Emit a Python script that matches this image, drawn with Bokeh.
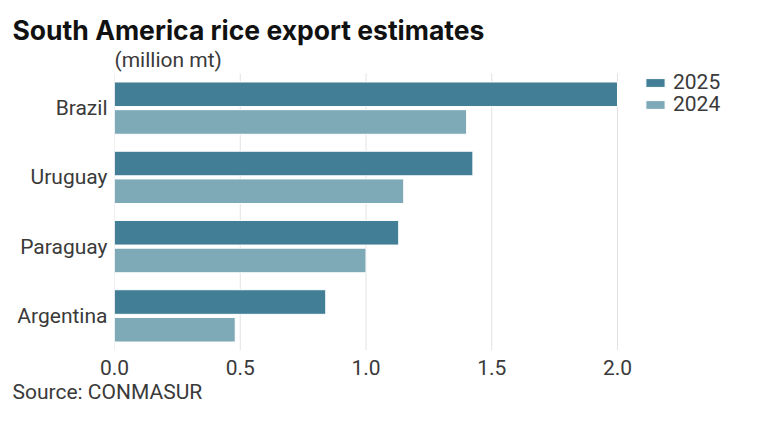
from bokeh.plotting import figure
from bokeh.models import (ColumnDataSource, FixedTicker, NumeralTickFormatter,
                          Title, Legend, LegendItem, Range1d, Label)
from bokeh.transform import dodge
from bokeh.embed import file_html
from bokeh.resources import INLINE

# Rice export estimates, million metric tons
countries = ["Brazil", "Uruguay", "Paraguay", "Argentina"]
exports_2025 = [2.0, 1.425, 1.13, 0.84]
exports_2024 = [1.40, 1.15, 1.0, 0.48]
x_ticks = [0.0, 0.5, 1.0, 1.5, 2.0]

DARK = "#427f96"
LIGHT = "#7eaab8"
TEXT = "#3a3a3a"
FONT = "Roboto"
TITLE_FONT = "Inter"

W, H = 768, 423
LEFT, RIGHT, TOP, BOTTOM = 114, 10, 45, 73
ROW_PX = 69.25          # pixels per country row
GRID_TOP = 73           # page y where the rows begin
HEADROOM = GRID_TOP - TOP   # room above the grid for unit note and legend
# 0..2.0 spans 503 px; the frame runs on to hold the legend
frame_w = W - LEFT - RIGHT
x_end = 2.0 * frame_w / 503
y_lo, y_hi = -0.5, len(countries) - 0.5

# first country at the top
ypos = [len(countries) - 1 - i for i in range(len(countries))]
src = ColumnDataSource(dict(y=ypos, country=countries,
                            v2025=exports_2025, v2024=exports_2024))

p = figure(width=W, height=H, output_backend="svg", toolbar_location=None,
           x_range=Range1d(0, x_end),
           y_range=Range1d(y_lo, y_hi + HEADROOM / ROW_PX),
           min_border_left=LEFT, min_border_right=RIGHT,
           min_border_top=TOP, min_border_bottom=BOTTOM)
p.outline_line_color = None
p.background_fill_color = "white"
p.border_fill_color = "white"
p.xgrid.grid_line_color = None
p.ygrid.grid_line_color = None

# vertical grid lines limited to the rows
p.segment(x0=x_ticks, x1=x_ticks, y0=y_lo, y1=y_hi,
          line_color="#e2e2e2", line_width=1)

bar_h = 0.355
r25 = p.hbar(y=dodge("y", 0.2), right="v2025", left=0, height=bar_h, source=src,
             fill_color=DARK, line_color="white", line_width=1)
r24 = p.hbar(y=dodge("y", -0.2), right="v2024", left=0, height=bar_h, source=src,
             fill_color=LIGHT, line_color="white", line_width=1)

# axes
p.xaxis.ticker = FixedTicker(ticks=x_ticks)
p.xaxis.formatter = NumeralTickFormatter(format="0.0")
p.yaxis.ticker = FixedTicker(ticks=ypos)
p.yaxis.major_label_overrides = {y: c for y, c in zip(ypos, countries)}
for ax in (p.xaxis[0], p.yaxis[0]):
    ax.axis_line_color = None
    ax.major_tick_line_color = None
    ax.minor_tick_line_color = None
    ax.major_label_text_font = FONT
    ax.major_label_text_font_size = "21px"
    ax.major_label_text_color = TEXT
p.xaxis.major_label_standoff = 3
p.yaxis.major_label_standoff = 1

# unit note just above the rows
p.add_layout(Label(x=0, y=y_hi + 14 / ROW_PX, text="(million mt)",
                   text_font=FONT, text_font_size="21px", text_color=TEXT,
                   text_align="left", text_baseline="middle"))

main = Title(text="South America rice export estimates", align="left",
             text_font=TITLE_FONT, text_font_size="26.5px", text_font_style="bold",
             text_color="#111111", offset=-102, standoff=0)
p.add_layout(main, "above")

src_note = Title(text="Source: CONMASUR", align="left", text_font=FONT,
                 text_font_size="21px", text_font_style="normal",
                 text_color=TEXT, offset=-102, standoff=0)
p.add_layout(src_note, "below")

# one legend box per series, stacked top right
legend_style = dict(orientation="vertical", glyph_width=24, glyph_height=11,
                    label_text_font=FONT, label_text_font_size="21px",
                    label_text_color=TEXT, label_standoff=6, spacing=0,
                    padding=0, margin=0, border_line_color=None,
                    background_fill_alpha=0)
frame_h = H - TOP - BOTTOM
for label, rend, cy in (("2025", r25, 82.5), ("2024", r24, 104)):
    # cy: row centre measured from the top of the page
    loc_y = round(frame_h - (cy - TOP) - 12)
    lg = Legend(items=[LegendItem(label=label, renderers=[rend])],
                location=(529, loc_y), **legend_style)
    p.add_layout(lg, "center")

open("out.html", "w").write(file_html(p, INLINE))
